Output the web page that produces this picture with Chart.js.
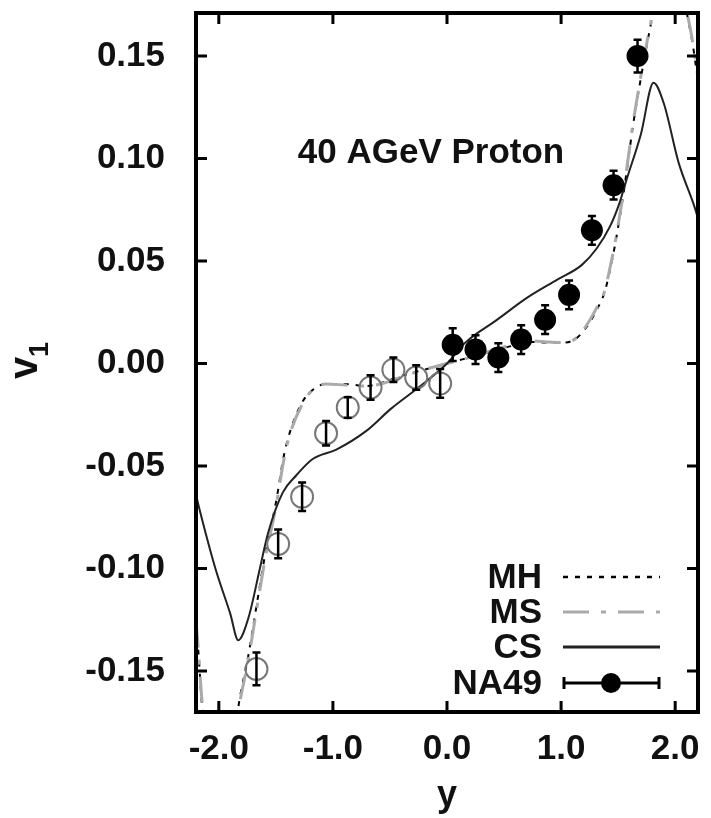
<!DOCTYPE html>
<html>
<head>
<meta charset="utf-8">
<script src="https://cdn.jsdelivr.net/npm/chart.js@4.4.1/dist/chart.umd.min.js"></script>
<style>
  html, body { margin: 0; padding: 0; background: #fff; }
</style>
</head>
<body>
<canvas id="c" width="711" height="818"></canvas>
<script>
const xTicks = [-2, -1, 0, 1, 2]
const yTicks = [-0.15, -0.10, -0.05, 0, 0.05, 0.10, 0.15]

// NA49 data, measured side (filled)
const na49X = [0.05, 0.25, 0.45, 0.65, 0.86, 1.07, 1.27, 1.46, 1.67]
const na49Y = [0.0092, 0.0068, 0.0029, 0.0117, 0.0214, 0.0335, 0.065, 0.087, 0.150]
const na49Err = [0.008, 0.007, 0.007, 0.007, 0.007, 0.007, 0.007, 0.007, 0.008]

// NA49 reflected points (open)
const reflX = [-0.06, -0.27, -0.47, -0.67, -0.87, -1.06, -1.27, -1.48, -1.67]
const reflY = [-0.0097, -0.0068, -0.003, -0.0117, -0.0214, -0.034, -0.065, -0.088, -0.149]
const reflErr = [0.007, 0.006, 0.006, 0.006, 0.005, 0.006, 0.007, 0.007, 0.008]

// model curves
const mhX = [-2.2, -2.18, -2.15, -2.1, -2.0, -1.9, -1.83, -1.74, -1.66, -1.59, -1.5, -1.43, -1.38, -1.27, -1.18, -1.06, -0.89, -0.71, -0.55, -0.4, -0.2, 0, 0.2, 0.4, 0.6, 0.75, 0.88, 1.03, 1.14, 1.25, 1.31, 1.38, 1.43, 1.47, 1.51, 1.55, 1.59, 1.63, 1.68, 1.75, 1.81, 1.9, 2.0, 2.1, 2.15, 2.2]
const mhY = [-0.128, -0.14, -0.165, -0.19, -0.21, -0.2, -0.168, -0.142, -0.115, -0.092, -0.068, -0.045, -0.034, -0.019, -0.013, -0.010, -0.010, -0.011, -0.009, -0.006, -0.003, 0, 0.003, 0.006, 0.009, 0.0105, 0.0102, 0.0102, 0.0126, 0.020, 0.026, 0.0345, 0.046, 0.057, 0.070, 0.084, 0.100, 0.116, 0.133, 0.155, 0.172, 0.20, 0.21, 0.172, 0.157, 0.138]
const msY = [-0.126, -0.139, -0.163, -0.19, -0.21, -0.2, -0.17, -0.144, -0.117, -0.094, -0.070, -0.047, -0.035, -0.020, -0.013, -0.010, -0.0105, -0.011, -0.0095, -0.0065, -0.003, 0, 0.003, 0.0065, 0.0095, 0.011, 0.0105, 0.0102, 0.0128, 0.021, 0.027, 0.035, 0.047, 0.058, 0.071, 0.085, 0.101, 0.117, 0.134, 0.156, 0.173, 0.20, 0.21, 0.173, 0.158, 0.14]

const csX = [-2.2, -2.17, -2.03, -1.9, -1.83, -1.74, -1.64, -1.57, -1.44, -1.32, -1.18, -0.97, -0.71, -0.49, -0.25, 0, 0.16, 0.44, 0.70, 0.97, 1.18, 1.31, 1.43, 1.51, 1.57, 1.70, 1.81, 1.90, 2.03, 2.16, 2.2]
const csY = [-0.064, -0.071, -0.100, -0.122, -0.135, -0.124, -0.100, -0.083, -0.063, -0.0545, -0.0467, -0.042, -0.033, -0.022, -0.0117, 0, 0.0102, 0.0214, 0.032, 0.041, 0.048, 0.056, 0.067, 0.078, 0.089, 0.112, 0.137, 0.127, 0.098, 0.078, 0.071]

const pts = (xs, ys) => xs.map((x, i) => ({ x: x, y: ys[i] }))

const FONT = 'Liberation Sans, Arial, Helvetica, sans-serif'
Chart.defaults.font.family = FONT
Chart.defaults.color = '#111'

// error bars, frame, inward ticks, text and legend
const decor = {
  id: 'decor',
  afterDatasetsDraw(chart) {
    const ctx = chart.ctx
    const xs = chart.scales.x, ys = chart.scales.y
    const a = chart.chartArea
    ctx.save()
    ctx.beginPath()
    ctx.rect(a.left, a.top, a.right - a.left, a.bottom - a.top)
    ctx.clip()
    ctx.strokeStyle = '#000'
    ctx.lineWidth = 2.5
    chart.data.datasets.forEach(ds => {
      if (!ds.errors) return
      ds.data.forEach((p, i) => {
        const px = xs.getPixelForValue(p.x)
        const y1 = ys.getPixelForValue(p.y - ds.errors[i])
        const y2 = ys.getPixelForValue(p.y + ds.errors[i])
        ctx.beginPath()
        ctx.moveTo(px, y1); ctx.lineTo(px, y2)
        ctx.moveTo(px - 4, y1); ctx.lineTo(px + 4, y1)
        ctx.moveTo(px - 4, y2); ctx.lineTo(px + 4, y2)
        ctx.stroke()
      })
    })
    ctx.restore()

    // frame
    ctx.save()
    ctx.strokeStyle = '#000'
    ctx.lineWidth = 4
    ctx.strokeRect(a.left, a.top, a.right - a.left, a.bottom - a.top)
    ctx.lineWidth = 3
    ctx.beginPath()
    xTicks.forEach(v => {
      const px = xs.getPixelForValue(v)
      ctx.moveTo(px, a.bottom); ctx.lineTo(px, a.bottom - 11)
      ctx.moveTo(px, a.top); ctx.lineTo(px, a.top + 11)
    })
    yTicks.forEach(v => {
      const py = ys.getPixelForValue(v)
      ctx.moveTo(a.left, py); ctx.lineTo(a.left + 11, py)
      ctx.moveTo(a.right, py); ctx.lineTo(a.right - 11, py)
    })
    ctx.stroke()

    // annotation
    ctx.fillStyle = '#111'
    ctx.font = 'bold 35px ' + FONT
    ctx.textAlign = 'center'
    ctx.textBaseline = 'middle'
    ctx.fillText('40 AGeV Proton', 431, 153)

    // legend
    const rows = [577, 612, 647, 683]
    const order = ['MH', 'MS', 'CS', 'NA49']
    ctx.textAlign = 'right'
    order.forEach((lab, k) => {
      const ds = chart.data.datasets.find(d => d.label === lab)
      const yy = rows[k]
      ctx.fillStyle = '#111'
      ctx.fillText(lab, 542, yy + 1)
      ctx.save()
      if (ds.errors) {
        ctx.strokeStyle = '#000'
        ctx.lineWidth = 3
        ctx.beginPath()
        ctx.moveTo(564, yy); ctx.lineTo(659, yy)
        ctx.moveTo(564, yy - 6); ctx.lineTo(564, yy + 6)
        ctx.moveTo(659, yy - 6); ctx.lineTo(659, yy + 6)
        ctx.stroke()
        ctx.fillStyle = ds.backgroundColor
        ctx.beginPath()
        ctx.arc(611, yy, 10, 0, Math.PI * 2)
        ctx.fill()
      } else {
        ctx.strokeStyle = ds.borderColor
        ctx.lineWidth = ds.legendWidth
        ctx.setLineDash(ds.borderDash || [])
        ctx.beginPath()
        ctx.moveTo(563, yy); ctx.lineTo(660, yy)
        ctx.stroke()
      }
      ctx.restore()
    })

    // y-axis title v_1
    ctx.translate(37, 364)
    ctx.rotate(-Math.PI / 2)
    ctx.textAlign = 'left'
    ctx.textBaseline = 'alphabetic'
    ctx.fillStyle = '#111'
    ctx.font = 'bold 40px ' + FONT
    ctx.fillText('v', -15, 0)
    ctx.font = 'bold 27px ' + FONT
    ctx.fillText('1', 7, 11)
    ctx.restore()
  }
}

new Chart(document.getElementById('c'), {
  type: 'scatter',
  data: {
    datasets: [
      {
        label: 'NA49',
        data: pts(na49X, na49Y),
        errors: na49Err,
        backgroundColor: '#000',
        borderColor: '#000',
        pointRadius: 11,
        pointHoverRadius: 11,
        borderWidth: 0
      },
      {
        label: 'NA49 reflected',
        data: pts(reflX, reflY),
        errors: reflErr,
        backgroundColor: 'rgba(0,0,0,0)',
        borderColor: '#777',
        pointRadius: 11,
        pointHoverRadius: 11,
        borderWidth: 2
      },
      {
        label: 'CS',
        data: pts(csX, csY),
        showLine: true,
        pointRadius: 0,
        borderColor: '#222',
        borderWidth: 2,
        legendWidth: 3,
        cubicInterpolationMode: 'monotone'
      },
      {
        label: 'MS',
        data: pts(mhX, msY),
        showLine: true,
        pointRadius: 0,
        borderColor: '#aaa',
        borderWidth: 3,
        legendWidth: 3,
        borderDash: [26, 12, 5, 12],
        cubicInterpolationMode: 'monotone'
      },
      {
        label: 'MH',
        data: pts(mhX, mhY),
        showLine: true,
        pointRadius: 0,
        borderColor: '#000',
        borderWidth: 2,
        legendWidth: 2.5,
        borderDash: [5, 7],
        cubicInterpolationMode: 'monotone'
      }
    ]
  },
  options: {
    responsive: false,
    animation: false,
    layout: { padding: { top: 10, right: 9, left: 0, bottom: 0 } },
    plugins: { legend: { display: false }, tooltip: { enabled: false } },
    scales: {
      x: {
        type: 'linear',
        min: -2.2,
        max: 2.2,
        grid: { display: false },
        border: { display: false },
        afterFit: s => { s.height = 106; s.paddingLeft = 0; s.paddingRight = 0 },
        afterBuildTicks: s => { s.ticks = xTicks.map(v => ({ value: v })) },
        ticks: {
          padding: 8,
          font: { size: 35, weight: 'bold' },
          color: '#111',
          callback: v => v.toFixed(1)
        },
        title: {
          display: true,
          text: 'y',
          padding: 0,
          font: { size: 36, weight: 'bold' },
          color: '#111'
        }
      },
      y: {
        type: 'linear',
        min: -0.17,
        max: 0.171,
        grid: { display: false },
        border: { display: false },
        afterFit: s => { s.width = 196; s.paddingTop = 0; s.paddingBottom = 0 },
        afterBuildTicks: s => { s.ticks = yTicks.map(v => ({ value: v })) },
        ticks: {
          padding: 23,
          font: { size: 35, weight: 'bold' },
          color: '#111',
          callback: v => v.toFixed(2)
        }
      }
    }
  },
  plugins: [decor]
})
</script>
</body>
</html>
